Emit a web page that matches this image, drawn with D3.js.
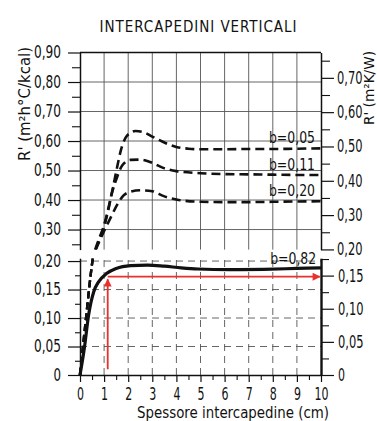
<!DOCTYPE html>
<html><head><meta charset="utf-8">
<script src="https://cdn.jsdelivr.net/npm/d3@7"></script>
<style>
html,body{margin:0;padding:0;background:#fff;}
svg{display:block;}
text{font-family:"Liberation Sans Narrow","DejaVu Sans Condensed","Arial Narrow",sans-serif;fill:#111;}
</style></head><body>
<svg id="chart" width="377" height="421"></svg>
<script>
// ---- tick values ----
const xTicks = [0,1,2,3,4,5,6,7,8,9,10];
const xMinor = [0.5,1.5,2.5,3.5,4.5,5.5,6.5,7.5,8.5,9.5];
const leftUpperTicks = [0.30,0.40,0.50,0.60,0.70,0.80,0.90];
const leftUpperMinor = [0.25,0.35,0.45,0.55,0.65,0.75,0.85];
const leftLowerTicks = [0,0.05,0.10,0.15,0.20];
const leftLowerMinor = [0.025,0.075,0.125,0.175];
const rightUpperTicks = [0.20,0.30,0.40,0.50,0.60,0.70];
const rightUpperMinor = [0.25,0.35,0.45,0.55,0.65,0.75];
const rightLowerTicks = [0,0.05,0.10,0.15];
const rightLowerMinor = [0.025,0.075,0.125,0.175];
const kcalPerW = 1.163; // m2h°C/kcal per m2K/W

// ---- series (x = spessore cm, R' in m2h°C/kcal) ----
const sp005 = [0,0.25,0.5,0.75,1.0,1.2,1.4,1.55,1.7,1.9,2.1,2.3,2.7,3.0,3.3,3.7,4.0,4.5,5,6,7,8,9,10];
const r005  = [0,0.10,0.195,0.26,0.315,0.38,0.455,0.515,0.57,0.612,0.628,0.634,0.628,0.615,0.603,0.588,0.58,0.574,0.572,0.572,0.573,0.573,0.574,0.575];
const sp011 = [0,0.25,0.5,0.75,1.0,1.15,1.33,1.55,1.75,2.1,2.5,3.0,3.45,4.0,5,6,7,8,9,10];
const r011  = [0,0.10,0.195,0.255,0.31,0.358,0.425,0.48,0.517,0.536,0.537,0.526,0.509,0.498,0.491,0.488,0.487,0.486,0.485,0.485];
const sp020 = [0,0.25,0.5,0.75,1.0,1.3,1.55,1.8,2.1,2.5,3.0,3.45,4.0,5,6,7,8,9,10];
const r020  = [0,0.10,0.195,0.25,0.295,0.345,0.385,0.415,0.428,0.433,0.43,0.414,0.402,0.394,0.393,0.393,0.394,0.395,0.396];
const sp082 = [0,0.18,0.36,0.57,0.78,1.1,1.5,2.1,2.8,3.5,4.2,4.9,6.2,7.6,9.0,10];
const r082  = [0,0.047,0.106,0.146,0.164,0.178,0.187,0.192,0.193,0.191,0.188,0.186,0.185,0.1855,0.187,0.188];
const seriesLabels = ["b=0,05","b=0,11","b=0,20","b=0,82"];
// red reading annotation
const readX = 1.15, readR = 0.1725, readStart = 0.01, readEndX = 9.95;

const fmt = v => v === 0 ? "0" : v.toFixed(2).replace(".", ",");
const narrowW = (s, dw) => [...s].reduce((a,c)=> a + (c === "," ? 4.5 : dw), 0);

const svg = d3.select("#chart");
const x = d3.scaleLinear().domain([0,10]).range([80,321]);
const yU = d3.scaleLinear().domain([0.232,0.90]).range([249.6,52.5]);
const yL = d3.scaleLinear().domain([0,0.205]).range([375,258.2]);
const yUR = d3.scaleLinear().domain(yU.domain().map(v=>v/kcalPerW)).range(yU.range());
const yLR = d3.scaleLinear().domain(yL.domain().map(v=>v/kcalPerW)).range(yL.range());

const defs = svg.append("defs");
defs.append("clipPath").attr("id","clipU").append("rect")
  .attr("x",x(0)-4).attr("y",yU(0.90)).attr("width",x(10)-x(0)+8).attr("height",yU(yU.domain()[0])-yU(0.90));
defs.append("clipPath").attr("id","clipL").append("rect")
  .attr("x",x(0)-4).attr("y",yL(yL.domain()[1])).attr("width",x(10)-x(0)+8).attr("height",yL(0)-yL(yL.domain()[1]));
defs.append("marker").attr("id","arr").attr("viewBox","0 0 10 10").attr("refX",9).attr("refY",5)
  .attr("markerWidth",9).attr("markerHeight",8).attr("markerUnits","userSpaceOnUse").attr("orient","auto")
  .append("path").attr("d","M0,0L10,5L0,10Z").attr("fill","#e8302c");

// ---- grids ----
const gridU = svg.append("g").attr("stroke","#555").attr("stroke-width",0.9);
gridU.selectAll(".v").data(xTicks.slice(1,-1)).join("line")
  .attr("x1",d=>x(d)).attr("x2",d=>x(d)).attr("y1",yU(0.90)).attr("y2",yU(yU.domain()[0]));
gridU.selectAll(".h").data(leftUpperTicks.slice(0,-1)).join("line")
  .attr("x1",x(0)).attr("x2",x(10)).attr("y1",d=>yU(d)).attr("y2",d=>yU(d));
const gridL = svg.append("g").attr("stroke","#555").attr("stroke-width",0.9).attr("stroke-dasharray","7,5");
gridL.selectAll(".v").data(xTicks.slice(1,-1)).join("line")
  .attr("x1",d=>x(d)).attr("x2",d=>x(d)).attr("y1",yL(0)).attr("y2",yL(yL.domain()[1]));
gridL.selectAll(".h").data(leftLowerTicks.slice(1)).join("line")
  .attr("x1",x(0)).attr("x2",x(10)).attr("y1",d=>yL(d)).attr("y2",d=>yL(d));

// top frame of upper panel
svg.append("line").attr("x1",x(0)).attr("x2",x(10)).attr("y1",yU(0.90)).attr("y2",yU(0.90))
  .attr("stroke","#111").attr("stroke-width",1.5);

// ---- axes ----
function styleAxis(g, size, w, dw){
  g.select(".domain").attr("stroke","#111").attr("stroke-width",w||1.5);
  g.selectAll(".tick line").attr("stroke","#111").attr("stroke-width",1.2);
  g.selectAll(".tick text").attr("font-size",size).attr("fill","#111")
    .attr("textLength",function(){return narrowW(this.textContent, dw||7.5);})
    .attr("lengthAdjust","spacingAndGlyphs");
  g.attr("font-family",null);
}
function minor(axis, vals, len, tr){
  const g = svg.append("g").attr("transform",tr).call(axis.tickValues(vals).tickSize(len).tickFormat(""));
  g.select(".domain").remove();
  g.selectAll(".tick line").attr("stroke","#111").attr("stroke-width",1.1);
}
// left upper
styleAxis(svg.append("g").attr("transform",`translate(${x(0)},0)`)
  .call(d3.axisLeft(yU).tickValues(leftUpperTicks).tickSize(12).tickSizeOuter(0).tickPadding(7).tickFormat(fmt)),17);
minor(d3.axisLeft(yU).tickSizeOuter(0), leftUpperMinor, 8, `translate(${x(0)},0)`);
// left lower
styleAxis(svg.append("g").attr("transform",`translate(${x(0)},0)`)
  .call(d3.axisLeft(yL).tickValues(leftLowerTicks).tickSize(12).tickSizeOuter(0).tickPadding(7).tickFormat(fmt)),17);
minor(d3.axisLeft(yL).tickSizeOuter(0), leftLowerMinor, 5, `translate(${x(0)},0)`);
// right upper
styleAxis(svg.append("g").attr("transform",`translate(${x(10)},0)`)
  .call(d3.axisRight(yUR).tickValues(rightUpperTicks).tickSize(13).tickSizeOuter(0).tickPadding(3).tickFormat(fmt)),17,1.5,7);
minor(d3.axisRight(yUR).tickSizeOuter(0), rightUpperMinor, 9, `translate(${x(10)},0)`);
// right lower
styleAxis(svg.append("g").attr("transform",`translate(${x(10)},0)`)
  .call(d3.axisRight(yLR).tickValues(rightLowerTicks).tickSize(13).tickSizeOuter(0).tickPadding(4).tickFormat(fmt)),17,2.4,7);
minor(d3.axisRight(yLR).tickSizeOuter(0), rightLowerMinor, 8, `translate(${x(10)},0)`);
// bottom
styleAxis(svg.append("g").attr("transform",`translate(0,${yL(0)})`)
  .call(d3.axisBottom(x).tickValues(xTicks).tickSize(7).tickSizeOuter(0).tickPadding(5).tickFormat(d3.format("d"))),18,1.6,7);
minor(d3.axisBottom(x).tickSizeOuter(0), xMinor, 5, `translate(0,${yL(0)})`);

// ---- curves ----
const zip = (a,b) => a.map((v,i)=>[v,b[i]]);
const lineU = d3.line().x(d=>x(d[0])).y(d=>yU(d[1])).curve(d3.curveMonotoneX);
const lineL = d3.line().x(d=>x(d[0])).y(d=>yL(d[1])).curve(d3.curveMonotoneX);
const dashed = [zip(sp005,r005), zip(sp011,r011), zip(sp020,r020)];
const gU = svg.append("g").attr("clip-path","url(#clipU)");
const gL = svg.append("g").attr("clip-path","url(#clipL)");
gU.selectAll("path").data(dashed).join("path").attr("d",lineU)
  .attr("fill","none").attr("stroke","#111").attr("stroke-width",2.6).attr("stroke-dasharray","9,5");
gL.selectAll("path.d").data(dashed).join("path").attr("class","d").attr("d",lineL)
  .attr("fill","none").attr("stroke","#111").attr("stroke-width",2.4).attr("stroke-dasharray","7,4");
gL.append("path").datum(zip(sp082,r082)).attr("d",lineL)
  .attr("fill","none").attr("stroke","#111").attr("stroke-width",3.2).attr("stroke-linejoin","round");

// ---- curve labels ----
const lastU = [r005, r011, r020].map(a=>a[a.length-1]);
svg.selectAll("text.lab").data(seriesLabels.slice(0,3)).join("text").attr("class","lab")
  .attr("x",x(9.75)).attr("y",(d,i)=>yU(lastU[i])-5).attr("text-anchor","end")
  .attr("font-size",16).attr("textLength",46).attr("lengthAdjust","spacingAndGlyphs").text(d=>d);
svg.append("text").attr("x",x(9.8)).attr("y",yL(r082[r082.length-1])-4).attr("text-anchor","end")
  .attr("font-size",16).attr("textLength",46).attr("lengthAdjust","spacingAndGlyphs").text(seriesLabels[3]);

// ---- red reading arrows ----
svg.append("line").attr("x1",x(readX)).attr("x2",x(readX)).attr("y1",yL(readStart)).attr("y2",yL(readR-0.0045))
  .attr("stroke","#e8302c").attr("stroke-width",1.8).attr("marker-end","url(#arr)");
svg.append("line").attr("x1",x(readX)).attr("x2",x(readEndX)).attr("y1",yL(readR)).attr("y2",yL(readR))
  .attr("stroke","#e8302c").attr("stroke-width",1.8).attr("marker-end","url(#arr)");

// ---- titles ----
svg.append("text").attr("x",198).attr("y",32).attr("text-anchor","middle").attr("font-size",15)
  .attr("textLength",197).attr("lengthAdjust","spacing").text("INTERCAPEDINI VERTICALI");
svg.append("text").attr("x",233).attr("y",418).attr("text-anchor","middle").attr("font-size",15)
  .attr("textLength",192).attr("lengthAdjust","spacingAndGlyphs").text("Spessore intercapedine (cm)");
svg.append("text").attr("transform","translate(30,104) rotate(-90)").attr("text-anchor","middle").attr("font-size",15)
  .attr("textLength",114).attr("lengthAdjust","spacingAndGlyphs").text("R' (m²h°C/kcal)");
svg.append("text").attr("transform","translate(374,88) rotate(-90)").attr("text-anchor","middle").attr("font-size",14)
  .attr("textLength",74).attr("lengthAdjust","spacingAndGlyphs").text("R' (m²K/W)");
</script>
</body></html>
